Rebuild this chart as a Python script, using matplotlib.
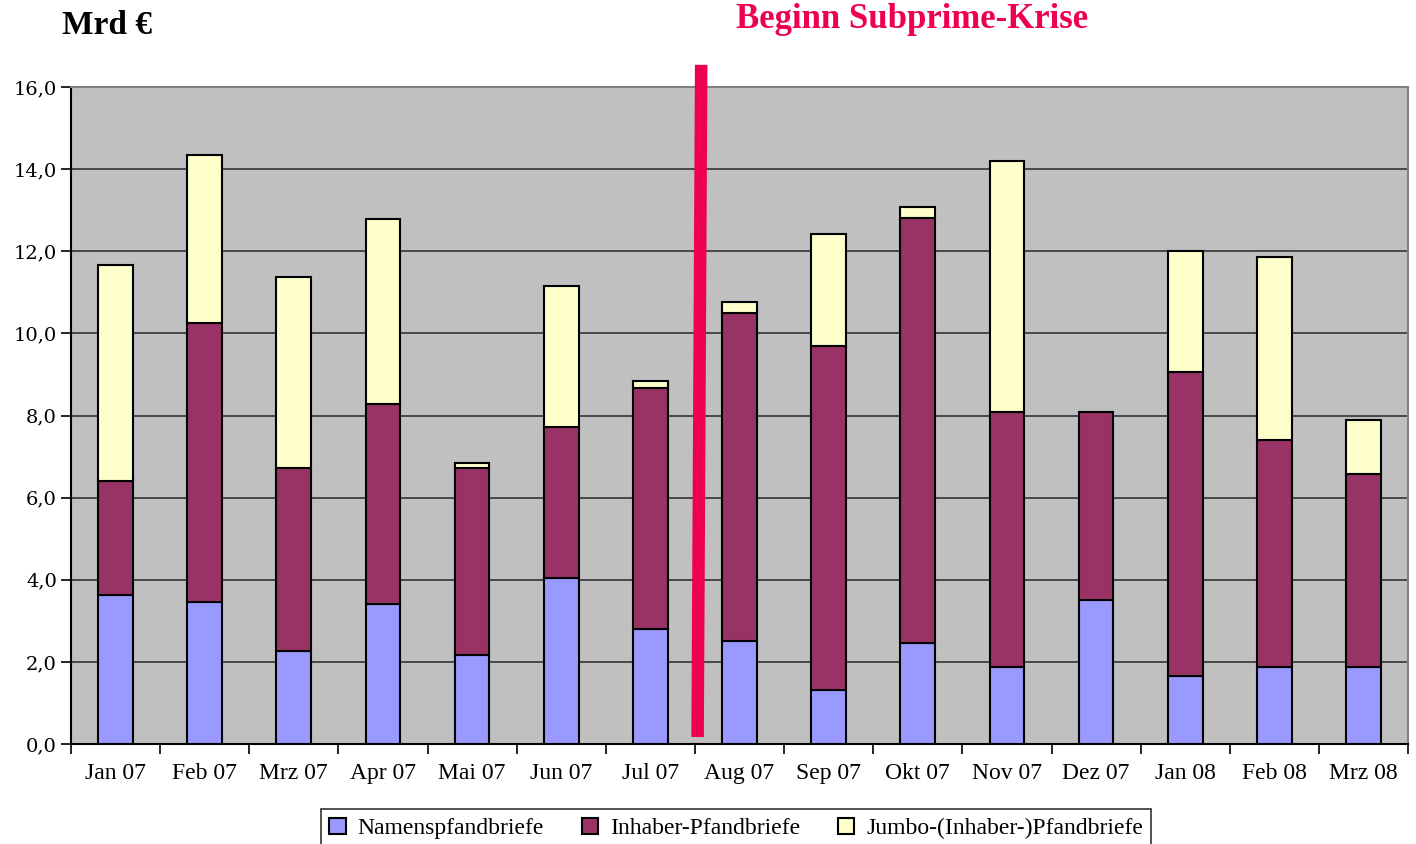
import matplotlib
matplotlib.use("Agg")
import matplotlib.pyplot as plt
import numpy as np
from matplotlib.patches import Patch

months = ["Jan 07", "Feb 07", "Mrz 07", "Apr 07", "Mai 07", "Jun 07", "Jul 07",
          "Aug 07", "Sep 07", "Okt 07", "Nov 07", "Dez 07", "Jan 08", "Feb 08", "Mrz 08"]
namens = [3.63, 3.46, 2.26, 3.41, 2.17, 4.04, 2.80, 2.51, 1.32, 2.46, 1.88, 3.51, 1.66, 1.88, 1.88]
inhaber = [2.77, 6.79, 4.46, 4.87, 4.55, 3.68, 5.87, 7.99, 8.37, 10.35, 6.21, 4.58, 7.40, 5.52, 4.70]
jumbo = [5.27, 4.09, 4.65, 4.51, 0.12, 3.43, 0.17, 0.26, 2.73, 0.27, 6.11, 0.0, 2.95, 4.46, 1.31]
series_names = ["Namenspfandbriefe", "Inhaber-Pfandbriefe", "Jumbo-(Inhaber-)Pfandbriefe"]
colors = ["#9999FF", "#993366", "#FFFFCC"]
yticks = [0, 2, 4, 6, 8, 10, 12, 14, 16]

fig = plt.figure(figsize=(14.16, 8.44), dpi=100)
ax = fig.add_axes([0.0501, 0.1185, 0.9443, 0.7784])
ax.set_facecolor("#C0C0C0")

x = np.arange(len(months))
w = 0.39
b2 = np.array(namens) + np.array(inhaber)
ax.bar(x, namens, w, color=colors[0], edgecolor="black", linewidth=1.5, zorder=3)
ax.bar(x, inhaber, w, bottom=namens, color=colors[1], edgecolor="black", linewidth=1.5, zorder=3)
jb = np.array(jumbo)
mask = jb > 0
ax.bar(x[mask], jb[mask], w, bottom=b2[mask], color=colors[2], edgecolor="black", linewidth=1.5, zorder=3)

ax.set_xlim(-0.5, len(months) - 0.5)
ax.set_ylim(0, 16)
ax.set_yticks(yticks)
ax.set_yticklabels([f"{v:.1f}".replace(".", ",") for v in yticks],
                   fontfamily="DejaVu Serif", fontsize=14)
ax.yaxis.grid(True, color="#333333", linewidth=1.2, zorder=0)
ax.set_axisbelow(True)
ax.set_xticks(x)
ax.set_xticklabels(months, fontfamily="Liberation Serif", fontsize=17)
ax.set_xticks(np.arange(-0.5, len(months), 1.0), minor=True)
ax.tick_params(axis="x", which="major", length=0, pad=14)
ax.tick_params(axis="x", which="minor", length=7, width=1.2, color="black")
ax.tick_params(axis="y", length=7, width=1.2, color="black", pad=3)

for s in ["left", "bottom"]:
    ax.spines[s].set_color("black")
    ax.spines[s].set_linewidth(1.5)
for s in ["top", "right"]:
    ax.spines[s].set_color("#808080")
    ax.spines[s].set_linewidth(1.5)

# crisis marker line
ax.plot([6.53, 6.57], [0.17, 16.54], color="#EE0050", linewidth=9, solid_capstyle="butt",
        clip_on=False, zorder=5)

fig.text(62 / 1416, 1 - 26 / 844, "Mrd €", fontfamily="Liberation Serif", fontweight="bold",
         fontsize=24, ha="left", va="center")
fig.text(912 / 1416, 1 - 20 / 844, "Beginn Subprime-Krise", fontfamily="Liberation Serif",
         fontweight="bold", fontsize=25, color="#EE0050", ha="center", va="center")

handles = [Patch(facecolor=c, edgecolor="black", linewidth=1.5) for c in colors]
leg = fig.legend(handles, series_names, loc="lower center", bbox_to_anchor=(736 / 1416, -0.018),
                 ncol=3, frameon=True, fancybox=False, edgecolor="black",
                 prop={"family": "Liberation Serif", "size": 17},
                 handlelength=0.7, handleheight=0.7, handletextpad=0.5, columnspacing=1.6,
                 borderpad=0.35, borderaxespad=0.5)
leg.get_frame().set_linewidth(1.2)

fig.savefig("out.png", dpi=100)
